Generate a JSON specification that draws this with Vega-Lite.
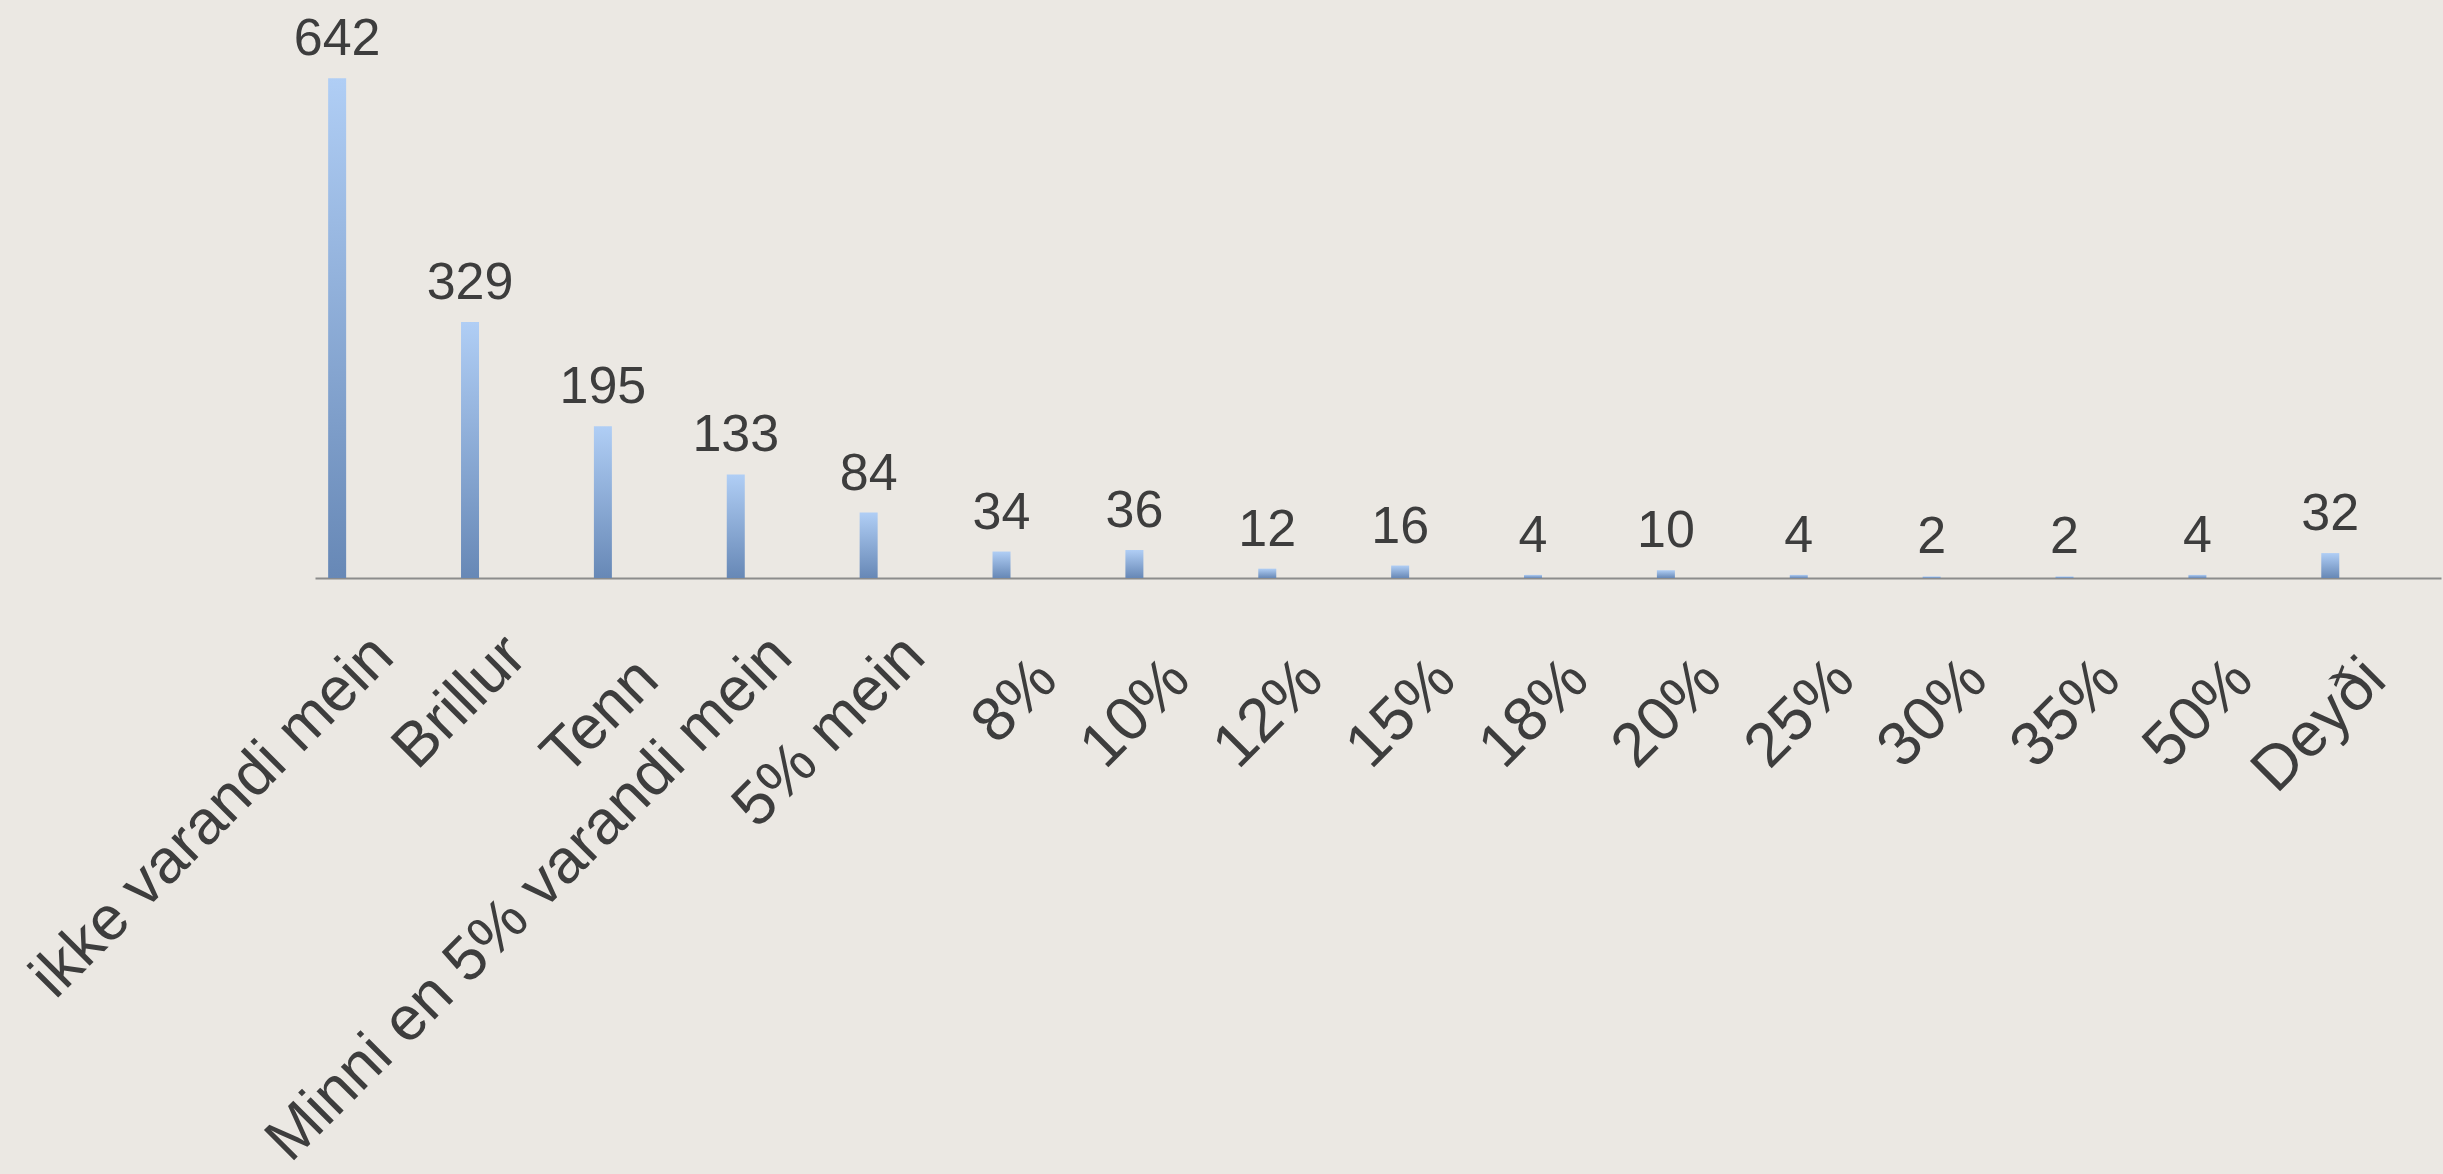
{
  "$schema": "https://vega.github.io/schema/vega-lite/v6.json",
  "autosize": {"type": "none"},
  "width": 2126,
  "height": 578,
  "padding": {"left": 315, "top": 0, "right": 2, "bottom": 596},
  "background": "#ebe8e3",
  "config": {
    "view": {"stroke": null},
    "font": "Liberation Sans"
  },
  "data": {
    "values": [
      {"category": "ikke varandi mein", "count": 642, "series": "a"},
      {"category": "Brillur", "count": 329, "series": "a"},
      {"category": "Tenn", "count": 195, "series": "a"},
      {"category": "Minni en 5% varandi mein", "count": 133, "series": "a"},
      {"category": "5% mein", "count": 84, "series": "a"},
      {"category": "8%", "count": 34, "series": "a"},
      {"category": "10%", "count": 36, "series": "a"},
      {"category": "12%", "count": 12, "series": "a"},
      {"category": "15%", "count": 16, "series": "a"},
      {"category": "18%", "count": 4, "series": "a"},
      {"category": "20%", "count": 10, "series": "a"},
      {"category": "25%", "count": 4, "series": "a"},
      {"category": "30%", "count": 2, "series": "a"},
      {"category": "35%", "count": 2, "series": "a"},
      {"category": "50%", "count": 4, "series": "a"},
      {"category": "Deyði", "count": 32, "series": "a"}
    ]
  },
  "encoding": {
    "x": {
      "field": "category",
      "type": "nominal",
      "sort": null,
      "scale": {"paddingInner": 0, "paddingOuter": 0},
      "axis": {
        "title": null,
        "ticks": false,
        "grid": false,
        "labels": false,
        "domainColor": "#8c8c8c",
        "domainWidth": 2
      }
    },
    "y": {
      "field": "count",
      "type": "quantitative",
      "scale": {"domain": [0, 742.6], "nice": false, "zero": true},
      "axis": null
    }
  },
  "layer": [
    {
      "mark": {
        "type": "bar",
        "width": 18,
        "color": {
          "gradient": "linear",
          "x1": 0, "y1": 0, "x2": 0, "y2": 1,
          "stops": [
            {"offset": 0, "color": "#b0cef5"},
            {"offset": 1, "color": "#6788b6"}
          ]
        }
      },
      "encoding": {
        "xOffset": {
          "field": "series",
          "type": "nominal",
          "scale": {"domain": ["a", "b", "c"], "paddingInner": 0, "paddingOuter": 0}
        }
      }
    },
    {
      "mark": {
        "type": "text",
        "fontSize": 52,
        "color": "#3d3d3d",
        "baseline": "alphabetic",
        "align": "center",
        "dy": -23
      },
      "encoding": {
        "xOffset": {
          "field": "series",
          "type": "nominal",
          "scale": {"domain": ["a", "b", "c"], "paddingInner": 0, "paddingOuter": 0}
        },
        "text": {"field": "count", "type": "quantitative"}
      }
    },
    {
      "mark": {
        "type": "text",
        "fontSize": 62,
        "color": "#3d3d3d",
        "baseline": "middle",
        "align": "right",
        "angle": -45,
        "dx": {"expr": "length(datum.category) >= 6 ? -47 : -64"},
        "dy": {"expr": "length(datum.category) >= 6 ? 49 : 65"}
      },
      "encoding": {
        "y": {"datum": 0},
        "text": {"field": "category", "type": "nominal"}
      }
    }
  ]
}
